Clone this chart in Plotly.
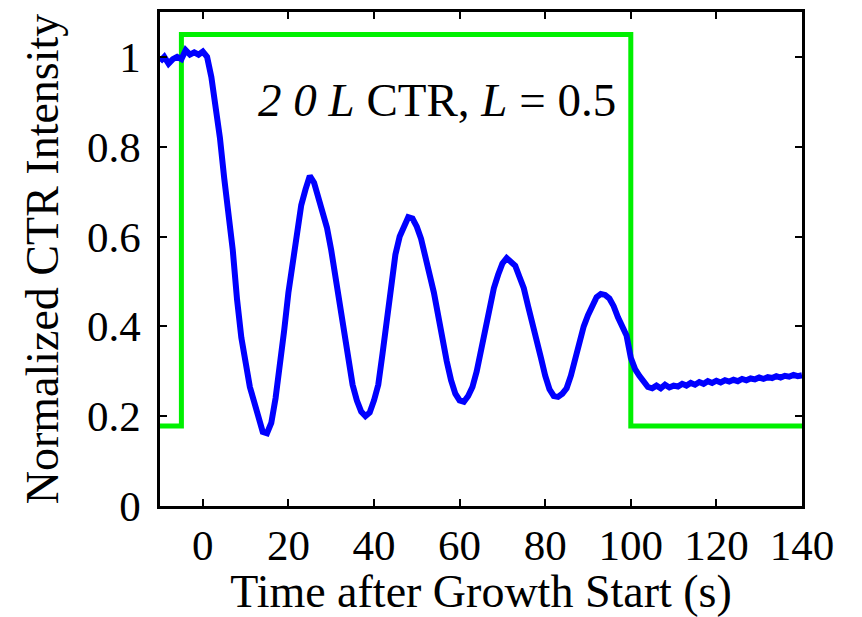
import plotly.graph_objects as go

# Time axis (s) and normalized CTR intensity of the 2 0 L rod at L = 0.5
time_s = list(range(-10, 141))
intensity = [
    0.990, 1.000, 0.985, 0.995, 1.000, 0.995, 1.015, 1.005, 1.010, 1.005,   # -10 .. -1
    1.012, 1.000, 0.955, 0.895, 0.820, 0.730, 0.655, 0.570, 0.460, 0.375,   # 0 .. 9
    0.320, 0.265, 0.232, 0.195, 0.165, 0.162, 0.185, 0.240, 0.310, 0.390,   # 10 .. 19
    0.475, 0.545, 0.615, 0.670, 0.705, 0.735, 0.720, 0.690, 0.660, 0.620,   # 20 .. 29
    0.570, 0.510, 0.455, 0.390, 0.330, 0.270, 0.235, 0.210, 0.200, 0.208,   # 30 .. 39
    0.235, 0.270, 0.340, 0.410, 0.485, 0.560, 0.600, 0.625, 0.643, 0.640,   # 40 .. 49
    0.622, 0.595, 0.560, 0.515, 0.475, 0.420, 0.370, 0.322, 0.280, 0.250,   # 50 .. 59
    0.235, 0.232, 0.245, 0.265, 0.300, 0.350, 0.390, 0.435, 0.485, 0.515,   # 60 .. 69
    0.540, 0.552, 0.545, 0.535, 0.510, 0.485, 0.445, 0.410, 0.375, 0.330,   # 70 .. 79
    0.290, 0.260, 0.245, 0.243, 0.250, 0.262, 0.290, 0.325, 0.370, 0.400,   # 80 .. 89
    0.425, 0.445, 0.465, 0.472, 0.470, 0.462, 0.445, 0.420, 0.400, 0.380,   # 90 .. 99
    0.330, 0.305, 0.290, 0.275, 0.265, 0.262, 0.268, 0.262, 0.270, 0.264,   # 100 .. 109
    0.268, 0.266, 0.272, 0.268, 0.274, 0.270, 0.276, 0.272, 0.278, 0.274,   # 110 .. 119
    0.279, 0.275, 0.280, 0.277, 0.281, 0.278, 0.283, 0.280, 0.284, 0.282,   # 120 .. 129
    0.286, 0.283, 0.287, 0.285, 0.289, 0.286, 0.290, 0.288, 0.292, 0.289,   # 130 .. 139
    0.291,                                                                  # 140
]

# Shutter (growth on/off) trace
shutter_t = [-10, -5, 100, 140]
shutter_v = [0.178, 1.05, 0.178, 0.178]

x_ticks = [0, 20, 40, 60, 80, 100, 120, 140]
y_ticks = [0, 0.2, 0.4, 0.6, 0.8, 1]
y_tick_text = ["0", "0.2", "0.4", "0.6", "0.8", "1"]

serif = "Liberation Serif"

fig = go.Figure()
fig.add_trace(go.Scatter(
    x=shutter_t, y=shutter_v, mode="lines", line_shape="hv",
    line=dict(color="#00f000", width=5), showlegend=False,
))
fig.add_trace(go.Scatter(
    x=time_s, y=intensity, mode="lines",
    line=dict(color="#0000ff", width=6), showlegend=False,
))

fig.add_annotation(
    x=54.7, y=0.905, xref="x", yref="y",
    text="<i>2 0 L</i> CTR, <i>L</i> = 0.5",
    showarrow=False, font=dict(family=serif, size=47, color="black"),
    xanchor="center", yanchor="middle",
)

axis_common = dict(
    showline=True, linecolor="black", linewidth=2.5, mirror="ticks",
    ticks="inside", ticklen=7, tickwidth=2, tickcolor="black",
    showgrid=False, zeroline=False,
    tickfont=dict(family=serif, size=43, color="black"),
)

fig.update_xaxes(
    range=[-10, 140], tickvals=x_ticks,
    title=dict(text="Time after Growth Start (s)",
               font=dict(family=serif, size=46, color="black"), standoff=6),
    **axis_common,
)
fig.update_yaxes(
    range=[0, 1.1], tickvals=y_ticks, ticktext=y_tick_text,
    ticklabelstandoff=8,
    title=dict(text="Normalized CTR Intensity",
               font=dict(family=serif, size=46, color="black"), standoff=14),
    **axis_common,
)

fig.update_layout(
    width=862, height=617,
    margin=dict(l=160, r=60, t=9, b=102),
    paper_bgcolor="white", plot_bgcolor="white",
)

fig.write_html("out.html")
